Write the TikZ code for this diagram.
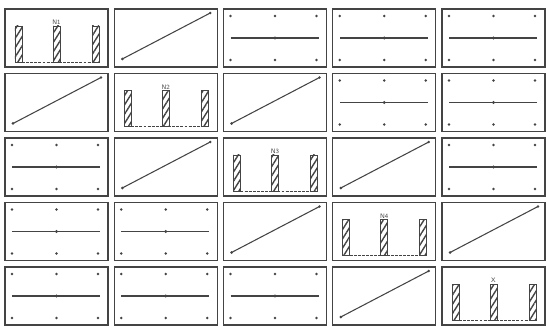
\documentclass[tikz,border=0pt]{standalone}
\usetikzlibrary{arrows.meta, positioning, calc, patterns.meta}
\definecolor{inkgray}{HTML}{444444}
\tikzset{
    panel/.style={rectangle, draw=inkgray, line width=1pt, minimum width=30.9mm, minimum height=17.4mm, inner sep=0pt, outer sep=0pt},
    bar/.style={rectangle, draw=inkgray, line width=0.8pt, minimum width=2.1mm, minimum height=10.8mm, inner sep=0pt, outer sep=0pt, pattern={Lines[angle=58, distance=4.2pt, line width=1.2pt]}, pattern color=inkgray},
    tag/.style={font=\sffamily\fontsize{5.5}{6}\selectfont, inner sep=0.4pt, text=inkgray},
    rule/.style={draw=inkgray, line width=0.9pt},
    floorline/.style={draw=inkgray, line width=0.8pt, dashed, dash pattern=on 2.5pt off 1pt}
}
\begin{document}
\begin{tikzpicture}[x=0.3mm, y=0.3mm]
    \fill[white] (0,0) rectangle (547,332);
    \useasboundingbox (0,0) rectangle (547,332);
    % 5x5 grid of panels
    \foreach \r in {1,...,5}
    \foreach \c in {1,...,5} {
        \node[panel] (p\r\c) at ({56.5+109.25*(\c-1)}, {294-64.5*(\r-1)}) {};
        \pgfmathtruncatemacro{\gap}{abs(\r-\c)}
        \begin{scope}[shift={(p\r\c.south west)}]
        \ifcase\gap
            % three hatched columns on the diagonal
            \node[bar] (b\r1) at (13.5,23) {};
            \node[bar] (b\r2) at (51.5,23) {};
            \node[bar] (b\r3) at (90.5,23) {};
            \draw[floorline] (b\r1.south east) -- (b\r3.south west);
            \node[tag, above=0.6pt of b\r2] (t\r) {\ifnum\r=5 X\else N\r\fi};
        \or
            % sloping line next to the diagonal
            \draw[rule] (8,8) -- (96,54);
            \fill[inkgray] (8,8) circle (0.45mm) (96,54) circle (0.4mm);
        \else
            % level line with six points
            \draw[rule] (7,29) -- (95,29);
            \fill[inkgray] (51.5,29) circle (0.5mm);
            \foreach \u in {7,51.5,93} {
                \fill[inkgray] (\u,51) circle (0.4mm);
                \fill[inkgray] (\u,7) circle (0.4mm);
            }
        \fi
        \end{scope}
    }
\end{tikzpicture}
\end{document}
